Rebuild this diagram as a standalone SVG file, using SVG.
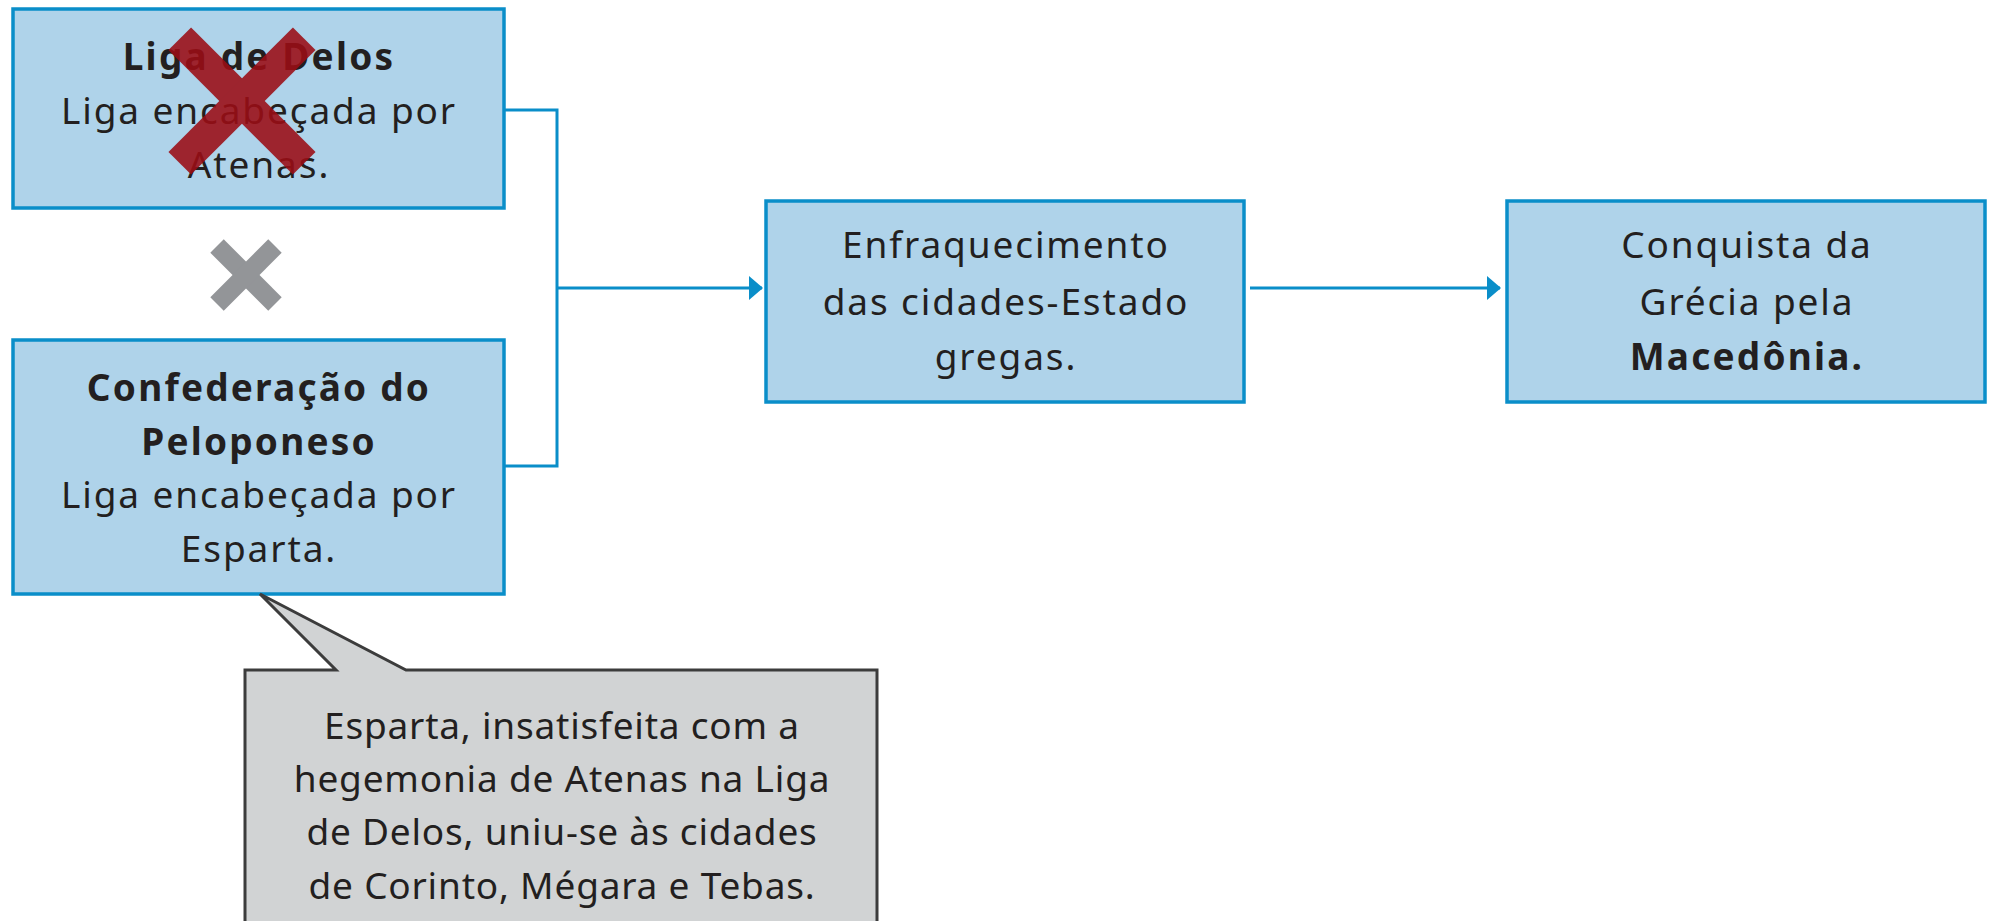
<svg xmlns="http://www.w3.org/2000/svg" width="1990" height="921" viewBox="0 0 1990 921">
<defs>
<style>
.box{fill:#afd3ea;stroke:#0a8ec9;stroke-width:3.5}
.t{font-family:"Noto Sans","Open Sans",sans-serif;font-size:37px;fill:#231f20;text-anchor:middle;letter-spacing:1.9px}
.b{font-weight:bold;letter-spacing:2.2px}
.c{letter-spacing:0.8px}
.con{fill:none;stroke:#0a8ec9;stroke-width:3}
</style>
<marker id="ah" markerWidth="14" markerHeight="24" refX="13" refY="12" orient="auto" markerUnits="userSpaceOnUse">
<path d="M0,0 L14,12 L0,24 Z" fill="#0a8ec9"/>
</marker>
</defs>
<rect width="1990" height="921" fill="#ffffff"/>
<g id="connectors">
<path class="con" d="M504,110 H557 V466 H504"/>
<path class="con" d="M557,288 H762" marker-end="url(#ah)"/>
<path class="con" d="M1250,288 H1500" marker-end="url(#ah)"/>
</g>
<g id="liga-delos">
<rect class="box" x="13" y="9" width="491" height="199"/>
<text class="t b" x="259" y="70">Liga de Delos</text>
<text class="t" x="259" y="124">Liga encabeçada por</text>
<text class="t" x="259" y="178">Atenas.</text>
<g fill="#9b0d15" opacity="0.88">
<rect x="154" y="85" width="176" height="32" transform="rotate(45 242 101)"/>
<rect x="154" y="85" width="176" height="32" transform="rotate(-45 242 101)"/>
</g>
</g>
<g id="versus" fill="#939598">
<rect x="205" y="265.5" width="82" height="19" transform="rotate(45 246 275)"/>
<rect x="205" y="265.5" width="82" height="19" transform="rotate(-45 246 275)"/>
</g>
<g id="confederacao">
<rect class="box" x="13" y="340" width="491" height="254"/>
<text class="t b" x="259" y="401">Confederação do</text>
<text class="t b" x="259" y="455">Peloponeso</text>
<text class="t" x="259" y="508">Liga encabeçada por</text>
<text class="t" x="259" y="562">Esparta.</text>
</g>
<g id="enfraquecimento">
<rect class="box" x="766" y="201" width="478" height="201"/>
<text class="t" x="1006" y="258">Enfraquecimento</text>
<text class="t" x="1006" y="315">das cidades-Estado</text>
<text class="t" x="1006" y="370">gregas.</text>
</g>
<g id="conquista">
<rect class="box" x="1507" y="201" width="478" height="201"/>
<text class="t" x="1747" y="258">Conquista da</text>
<text class="t" x="1747" y="315">Grécia pela</text>
<text class="t b" x="1747" y="370">Macedônia.</text>
</g>
<g id="callout">
<path d="M260,594 L336,670 H245 V930 H877 V670 H406 Z" fill="#d1d3d4" stroke="#3c3c3c" stroke-width="3"/>
<text class="t c" x="562" y="739">Esparta, insatisfeita com a</text>
<text class="t c" x="562" y="792">hegemonia de Atenas na Liga</text>
<text class="t c" x="562" y="845">de Delos, uniu-se às cidades</text>
<text class="t c" x="562" y="899">de Corinto, Mégara e Tebas.</text>
</g>
</svg>
